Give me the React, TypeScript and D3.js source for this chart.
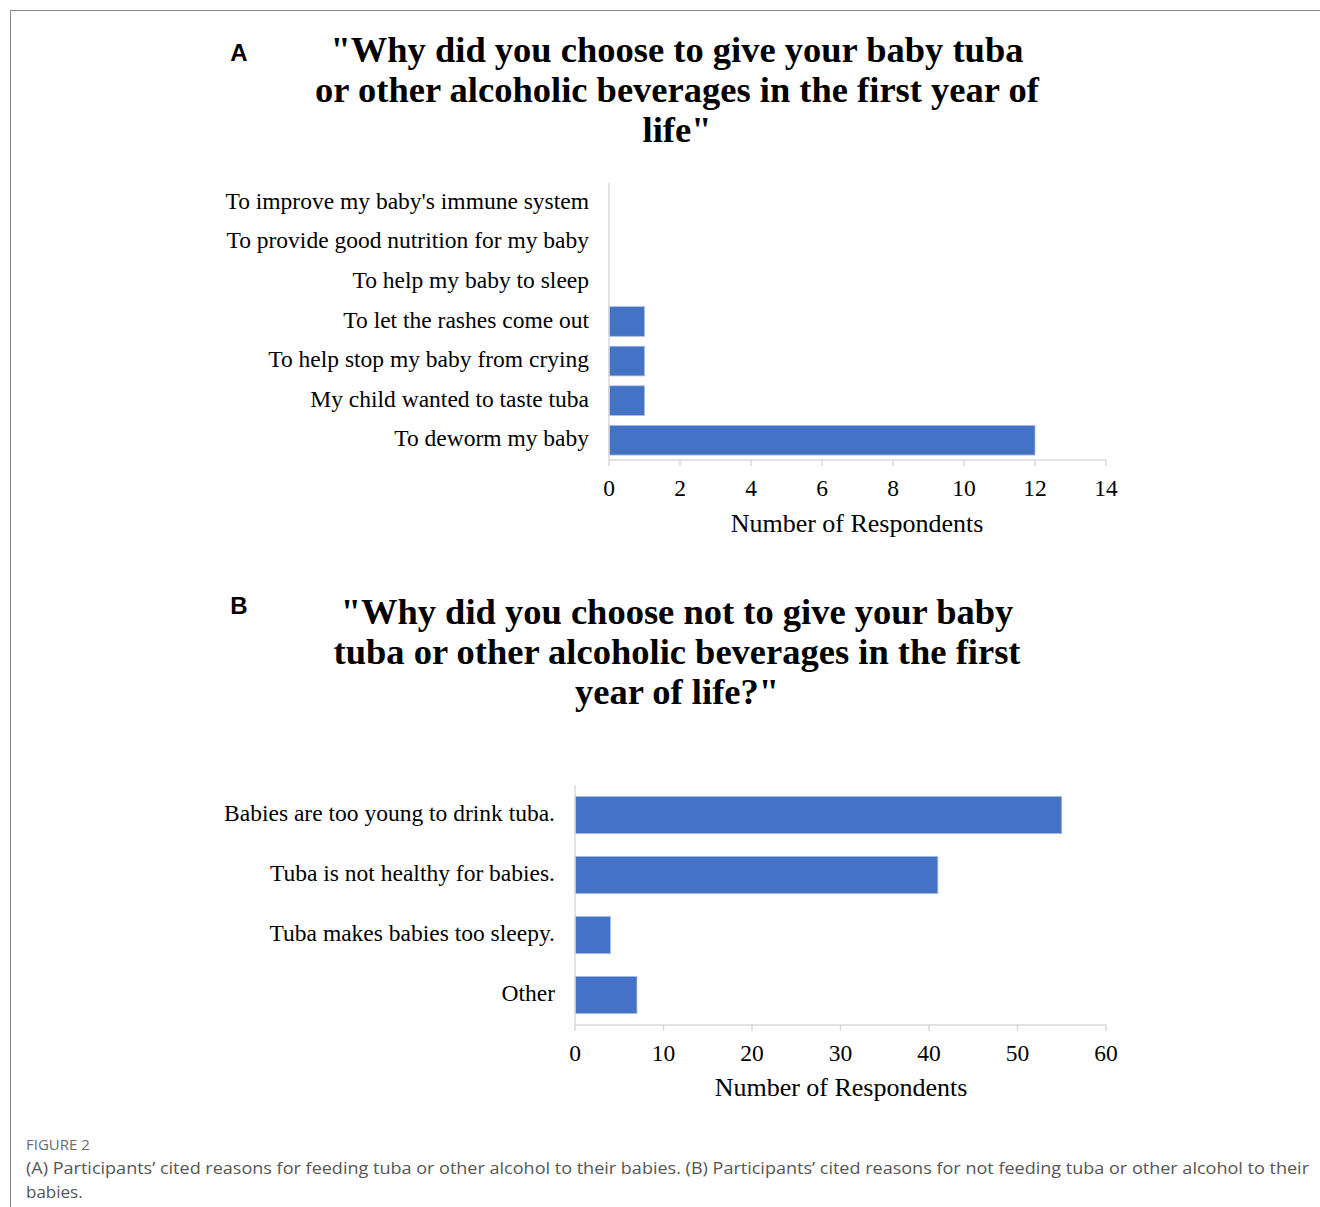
import React from "react";
import * as d3 from "d3";

const catsA = [
  "To improve my baby's immune system",
  "To provide good nutrition for my baby",
  "To help my baby to sleep",
  "To let the rashes come out",
  "To help stop my baby from crying",
  "My child wanted to taste tuba",
  "To deworm my baby",
];
const valsA = [0, 0, 0, 1, 1, 1, 12];
const ticksA = [0, 2, 4, 6, 8, 10, 12, 14];

const catsB = [
  "Babies are too young to drink tuba.",
  "Tuba is not healthy for babies.",
  "Tuba makes babies too sleepy.",
  "Other",
];
const valsB = [55, 41, 4, 7];
const ticksB = [0, 10, 20, 30, 40, 50, 60];

const titleA = [
  "\"Why did you choose to give your baby tuba",
  "or other alcoholic beverages in the first year of",
  "life\"",
];
const titleB = [
  "\"Why did you choose not to give your baby",
  "tuba or other alcoholic beverages in the first",
  "year of life?\"",
];
const captionLines = [
  "(A) Participants\u2019 cited reasons for feeding tuba or other alcohol to their babies. (B) Participants\u2019 cited reasons for not feeding tuba or other alcohol to their",
  "babies.",
];

const BAR = "#4472c4";
const AXIS = "#d9d9d9";
const SERIF = "'Liberation Serif', 'Times New Roman', serif";

function HBar({ cats, vals, ticks, x0, x1, y0, y1, pad, labelX, labelFs, axisLabelY, axisLabelX }: any) {
  const x = d3.scaleLinear().domain([0, ticks[ticks.length - 1]]).range([x0, x1]);
  const y = d3.scaleBand<string>().domain(cats).range([y0, y1]).paddingInner(pad).paddingOuter(pad / 2);
  return (
    <g>
      {cats.map((c: string, i: number) =>
        vals[i] > 0 ? (
          <rect key={c} x={x(0)} y={y(c)} width={x(vals[i]) - x(0)} height={y.bandwidth()} fill={BAR} stroke="#a9bde6" strokeWidth={0.8} />
        ) : null
      )}
      <line x1={x0} x2={x0} y1={y0} y2={y1} stroke={AXIS} strokeWidth={1.5} />
      <line x1={x0} x2={x1} y1={y1} y2={y1} stroke={AXIS} strokeWidth={1.5} />
      {ticks.map((t: number) => (
        <g key={t}>
          <line x1={x(t)} x2={x(t)} y1={y1} y2={y1 + 6} stroke={AXIS} strokeWidth={1.5} />
          <text x={x(t)} y={y1 + 36} textAnchor="middle" fontFamily={SERIF} fontSize={23.5} fill="#000">
            {t}
          </text>
        </g>
      ))}
      {cats.map((c: string) => (
        <text key={c} x={labelX} y={(y(c) as number) + y.bandwidth() / 2} dy="0.26em" textAnchor="end" fontFamily={SERIF} fontSize={labelFs} fill="#000">
          {c}
        </text>
      ))}
      <text x={axisLabelX} y={axisLabelY} textAnchor="middle" fontFamily={SERIF} fontSize={26} fill="#000">
        Number of Respondents
      </text>
    </g>
  );
}

export default function App() {
  return (
    <svg width={1320} height={1207} style={{ position: "absolute", left: 0, top: 0, background: "#fff" }}>
      <rect x={0} y={0} width={1320} height={1207} fill="#fff" />
      <line x1={10} x2={1320} y1={10.5} y2={10.5} stroke="#888" strokeWidth={1} />
      <line x1={10.5} x2={10.5} y1={10} y2={1207} stroke="#888" strokeWidth={1} />

      <text x={239} y={61} textAnchor="middle" fontFamily="'Liberation Sans', Arial, sans-serif" fontWeight="bold" fontSize={24}>A</text>
      {titleA.map((t, i) => (
        <text key={i} x={677} y={62 + i * 40} textAnchor="middle" fontFamily={SERIF} fontWeight="bold" fontSize={36.5}>{t}</text>
      ))}
      <HBar cats={catsA} vals={valsA} ticks={ticksA} x0={609} x1={1106} y0={183} y1={460} pad={0.25} labelX={589} labelFs={23.5} axisLabelY={532} axisLabelX={857} />

      <text x={239} y={614} textAnchor="middle" fontFamily="'Liberation Sans', Arial, sans-serif" fontWeight="bold" fontSize={24}>B</text>
      {titleB.map((t, i) => (
        <text key={i} x={677} y={624 + i * 40} textAnchor="middle" fontFamily={SERIF} fontWeight="bold" fontSize={36.5}>{t}</text>
      ))}
      <HBar cats={catsB} vals={valsB} ticks={ticksB} x0={575} x1={1106} y0={785} y1={1025} pad={0.38} labelX={555} labelFs={23.5} axisLabelY={1096} axisLabelX={841} />

      <text x={26} y={1150} fontFamily="'Open Sans', 'Noto Sans', sans-serif" fontSize={15} fill="#6b6b6b">FIGURE 2</text>
      <text x={26} y={1174} fontFamily="'Open Sans', 'Noto Sans', sans-serif" fontSize={17} fill="#555" textLength={1283} lengthAdjust="spacingAndGlyphs">{captionLines[0]}</text>
      <text x={26} y={1198} fontFamily="'Open Sans', 'Noto Sans', sans-serif" fontSize={17} fill="#555">{captionLines[1]}</text>
    </svg>
  );
}
